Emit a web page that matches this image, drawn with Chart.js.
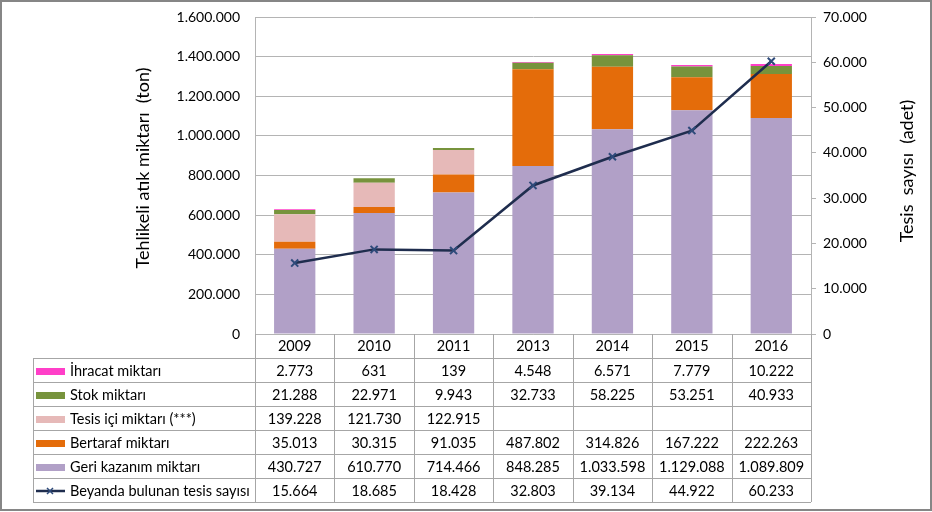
<!DOCTYPE html>
<html>
<head>
<meta charset="utf-8">
<script src="https://cdn.jsdelivr.net/npm/chart.js@4.4.1/dist/chart.umd.min.js"></script>
<style>
  html, body { margin: 0; padding: 0; background: #fff; }
  #wrap { width: 932px; height: 512px; position: relative; }
</style>
</head>
<body>
<div id="wrap"><canvas id="chart"></canvas></div>
<script>
const years = ["2009", "2010", "2011", "2013", "2014", "2015", "2016"];

const ihracat = [2773, 631, 139, 4548, 6571, 7779, 10222];
const stok = [21288, 22971, 9943, 32733, 58225, 53251, 40933];
const tesisIci = [139228, 121730, 122915, null, null, null, null];
const bertaraf = [35013, 30315, 91035, 487802, 314826, 167222, 222263];
const geriKazanim = [430727, 610770, 714466, 848285, 1033598, 1129088, 1089809];
const tesisSayisi = [15664, 18685, 18428, 32803, 39134, 44922, 60233];

const leftTicks = [0, 200000, 400000, 600000, 800000, 1000000, 1200000, 1400000, 1600000];
const rightTicks = [0, 10000, 20000, 30000, 40000, 50000, 60000, 70000];

const leftTitle = "Tehlikeli atık miktarı  (ton)";
const rightTitle = "Tesis  sayısı  (adet)";

const FONT = "Lato, 'Open Sans', sans-serif";
const GRID = "#b4b4b4";

// thousands with dots, like the source
function fmt(v) {
  if (v === null || v === undefined) return "";
  return String(v).replace(/\B(?=(\d{3})+(?!\d))/g, ".");
}

// rows of the table under the chart, top to bottom
const tableRows = [
  { label: "İhracat miktarı", data: ihracat, color: "#ff3fc8" },
  { label: "Stok miktarı", data: stok, color: "#77933c" },
  { label: "Tesis içi miktarı (***)", data: tesisIci, color: "#e6b9b8" },
  { label: "Bertaraf miktarı", data: bertaraf, color: "#e46c0a" },
  { label: "Geri kazanım miktarı", data: geriKazanim, color: "#b1a0c7" },
  { label: "Beyanda bulunan tesis sayısı", data: tesisSayisi, color: "#1f2d4e", line: true }
];

const ROW_H = 24;
const TABLE_LEFT = 33;

const tablePlugin = {
  id: "dataTable",
  afterDraw(chart) {
    const ctx = chart.ctx;
    const x = chart.scales.x;
    const area = chart.chartArea;
    const colW = (x.right - x.left) / years.length;
    const headTop = area.bottom;
    const bodyTop = headTop + ROW_H;
    const bottom = bodyTop + ROW_H * tableRows.length;

    ctx.save();
    ctx.strokeStyle = "#a6a6a6";
    ctx.lineWidth = 1;

    // column lines
    for (let i = 0; i <= years.length; i++) {
      const px = Math.round(x.left + i * colW) + 0.5;
      ctx.beginPath();
      ctx.moveTo(px, headTop);
      ctx.lineTo(px, bottom);
      ctx.stroke();
    }
    ctx.beginPath();
    ctx.moveTo(TABLE_LEFT + 0.5, bodyTop);
    ctx.lineTo(TABLE_LEFT + 0.5, bottom);
    ctx.stroke();

    // row lines
    for (let r = 0; r <= tableRows.length; r++) {
      const py = Math.round(bodyTop + r * ROW_H) + 0.5;
      ctx.beginPath();
      ctx.moveTo(TABLE_LEFT, py);
      ctx.lineTo(x.right, py);
      ctx.stroke();
    }

    ctx.font = "14.5px " + FONT;
    ctx.fillStyle = "#000";
    ctx.textBaseline = "middle";

    tableRows.forEach((row, r) => {
      const cy = bodyTop + r * ROW_H + ROW_H / 2 + 1;
      // legend key
      if (row.line) {
        ctx.strokeStyle = row.color;
        ctx.lineWidth = 2.5;
        ctx.beginPath();
        ctx.moveTo(36, cy);
        ctx.lineTo(65, cy);
        ctx.stroke();
        ctx.strokeStyle = "#2e4a7a";
        ctx.lineWidth = 1.5;
        ctx.beginPath();
        ctx.moveTo(47, cy - 3); ctx.lineTo(53, cy + 3);
        ctx.moveTo(53, cy - 3); ctx.lineTo(47, cy + 3);
        ctx.stroke();
      } else {
        ctx.fillStyle = row.color;
        ctx.fillRect(36, cy - 3, 29, 7);
      }
      ctx.fillStyle = "#000";
      ctx.textAlign = "left";
      ctx.fillText(row.label, 70, cy);
      // values
      ctx.textAlign = "center";
      row.data.forEach((v, i) => {
        ctx.fillText(fmt(v), x.getPixelForValue(i), cy);
      });
    });

    // axis titles
    ctx.font = "18px " + FONT;
    ctx.textAlign = "center";
    ctx.save();
    ctx.translate(143, 168);
    ctx.rotate(-Math.PI / 2);
    ctx.fillText(leftTitle, 0, 0);
    ctx.restore();
    ctx.save();
    ctx.translate(907, 171);
    ctx.rotate(-Math.PI / 2);
    ctx.fillText(rightTitle, 0, 0);
    ctx.restore();

    // outer frame
    ctx.strokeStyle = "#868686";
    ctx.lineWidth = 2;
    ctx.strokeRect(1, 1, chart.width - 2, chart.height - 3);
    ctx.restore();
  }
};

function barSet(label, data, color) {
  return {
    type: "bar",
    label: label,
    data: data,
    backgroundColor: color,
    borderWidth: 0,
    barPercentage: 0.52,
    categoryPercentage: 1,
    yAxisID: "y",
    order: 1
  };
}

new Chart(document.getElementById("chart"), {
  data: {
    labels: years,
    datasets: [
      barSet("Geri kazanım miktarı", geriKazanim, "#b1a0c7"),
      barSet("Bertaraf miktarı", bertaraf, "#e46c0a"),
      barSet("Tesis içi miktarı (***)", tesisIci, "#e6b9b8"),
      barSet("Stok miktarı", stok, "#77933c"),
      barSet("İhracat miktarı", ihracat, "#ff3fc8"),
      {
        type: "line",
        label: "Beyanda bulunan tesis sayısı",
        data: tesisSayisi,
        yAxisID: "y1",
        borderColor: "#1f2d4e",
        borderWidth: 2.5,
        pointStyle: "crossRot",
        pointRadius: 5,
        pointBorderWidth: 2,
        pointBorderColor: "#2e4a7a",
        tension: 0,
        order: 0
      }
    ]
  },
  options: {
    responsive: true,
    maintainAspectRatio: false,
    animation: false,
    layout: { padding: { top: 17, left: 0, right: 0, bottom: 0 } },
    plugins: {
      legend: { display: false },
      tooltip: { enabled: false }
    },
    scales: {
      x: {
        stacked: true,
        grid: { display: false, drawTicks: false },
        border: { display: true, color: GRID },
        ticks: { color: "#000", font: { family: FONT, size: 14.5 }, padding: 4, maxRotation: 0 },
        afterFit(scale) { scale.height = 178; scale.paddingLeft = 0; scale.paddingRight = 0; }
      },
      y: {
        stacked: true,
        position: "left",
        min: 0,
        max: 1600000,
        afterBuildTicks(scale) { scale.ticks = leftTicks.map(v => ({ value: v })); },
        grid: { color: GRID, drawTicks: false },
        border: { display: true, color: GRID },
        ticks: {
          color: "#000",
          font: { family: FONT, size: 14 },
          padding: 15,
          callback: v => fmt(v)
        },
        afterFit(scale) { scale.width = 255; scale.paddingTop = 0; scale.paddingBottom = 0; }
      },
      y1: {
        position: "right",
        min: 0,
        max: 70000,
        afterBuildTicks(scale) { scale.ticks = rightTicks.map(v => ({ value: v })); },
        grid: { drawOnChartArea: false, color: GRID, tickLength: 5 },
        border: { display: true, color: GRID },
        ticks: {
          color: "#000",
          font: { family: FONT, size: 14 },
          padding: 7,
          callback: v => fmt(v)
        },
        afterFit(scale) { scale.width = 121; scale.paddingTop = 0; scale.paddingBottom = 0; }
      }
    }
  },
  plugins: [tablePlugin]
});
</script>
</body>
</html>
